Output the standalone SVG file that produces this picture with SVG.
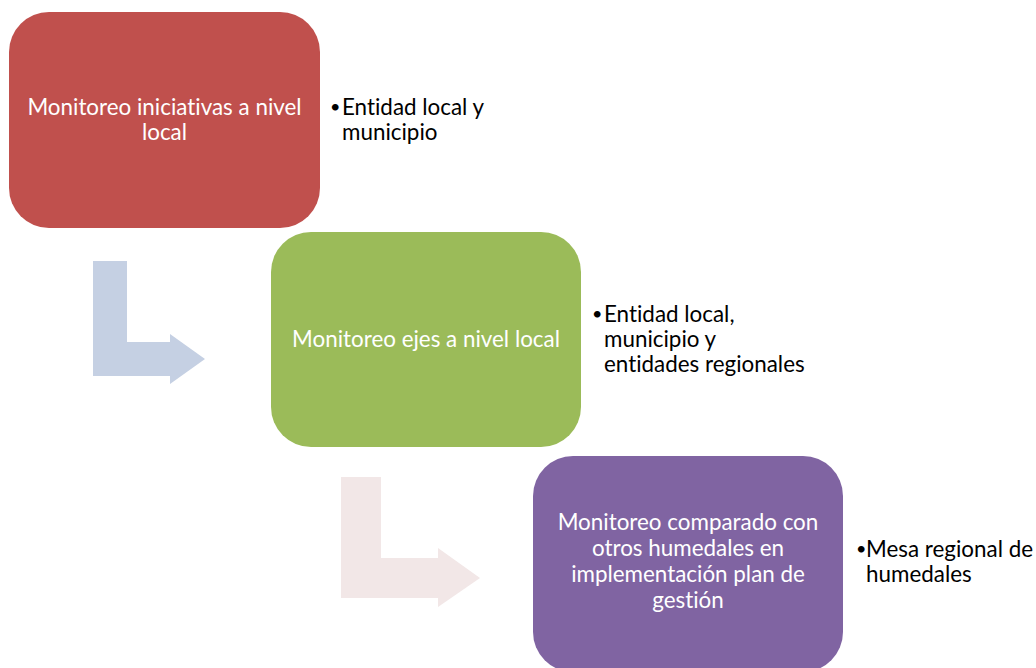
<svg xmlns="http://www.w3.org/2000/svg" width="1036" height="668" viewBox="0 0 1036 668">
<style>
.box-text{font-family:Lato,"Open Sans","Liberation Sans",sans-serif;font-size:22.4px;fill:#ffffff;text-anchor:middle;font-variant-ligatures:none;font-feature-settings:"liga" 0,"clig" 0,"dlig" 0}
.side{font-family:Lato,"Open Sans","Liberation Sans",sans-serif;font-size:22.4px;fill:#000000;font-variant-ligatures:none;font-feature-settings:"liga" 0,"clig" 0,"dlig" 0}
.bullet{font-family:Lato,"Open Sans","Liberation Sans",sans-serif;font-size:18px;fill:#000000}
</style>
<rect width="1036" height="668" fill="#ffffff"/>
<g id="connectors">
<path d="M93,261 L127,261 L127,342 L170,342 L170,334 L205,359 L170,384 L170,376 L93,376 Z" fill="#C5D0E3"/>
<path d="M341,477 L381,477 L381,558 L438,558 L438,548 L480,578 L438,607 L438,598 L341,598 Z" fill="#F2E7E7"/>
</g>
<g id="node1">
<rect x="9" y="12" width="311" height="216" rx="40" ry="40" fill="#C0504D"/>
<text class="box-text" x="164.5" y="115">Monitoreo iniciativas a nivel</text>
<text class="box-text" x="164.5" y="140">local</text>
</g>
<g id="node1-note">
<text class="bullet" x="330" y="113">•</text>
<text class="side" x="342" y="115">Entidad local y</text>
<text class="side" x="342" y="140">municipio</text>
</g>
<g id="node2">
<rect x="271" y="232" width="310" height="215" rx="40" ry="40" fill="#9BBB59"/>
<text class="box-text" x="426" y="347">Monitoreo ejes a nivel local</text>
</g>
<g id="node2-note">
<text class="bullet" x="592" y="320">•</text>
<text class="side" x="604" y="322">Entidad local,</text>
<text class="side" x="604" y="347">municipio y</text>
<text class="side" x="604" y="372">entidades regionales</text>
</g>
<g id="node3">
<rect x="533" y="456" width="310" height="216" rx="40" ry="40" fill="#8064A2"/>
<text class="box-text" x="688" y="530">Monitoreo comparado con</text>
<text class="box-text" x="688" y="556">otros humedales en</text>
<text class="box-text" x="688" y="582">implementación plan de</text>
<text class="box-text" x="688" y="608">gestión</text>
</g>
<g id="node3-note">
<text class="bullet" x="856" y="555">•</text>
<text class="side" x="866" y="557">Mesa regional de</text>
<text class="side" x="866" y="582">humedales</text>
</g>
</svg>
